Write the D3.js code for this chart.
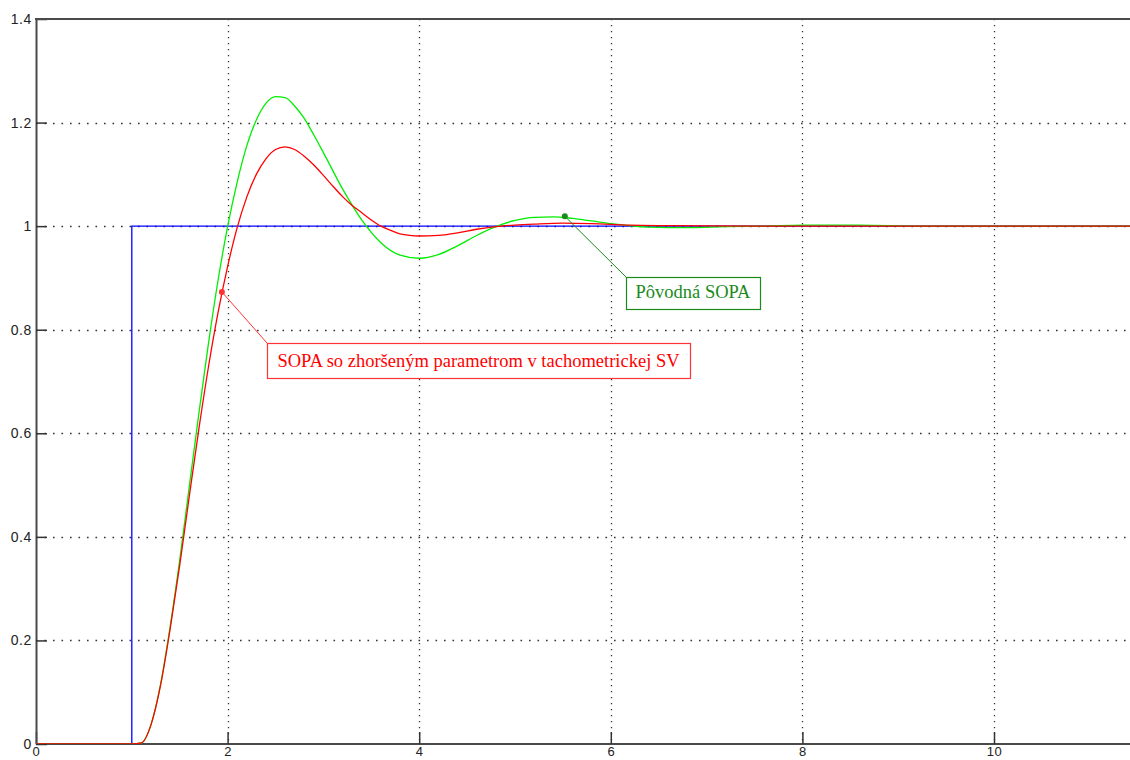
<!DOCTYPE html>
<html>
<head>
<meta charset="utf-8">
<script src="https://cdn.jsdelivr.net/npm/d3@7"></script>
<style>
  html, body { margin: 0; padding: 0; background: #ffffff; }
  svg { display: block; }
</style>
</head>
<body>
<svg id="chart" width="1130" height="760"></svg>
<script>
// Reference step input (unit step applied at t = 1 s)
const stepT = [0, 1, 1, 12];
const stepY = [0, 0, 1, 1];

// Original closed loop ("Pôvodná SOPA")
const origT = [0, 1.0, 1.1, 1.2, 1.3, 1.4, 1.5, 1.6, 1.7, 1.8, 1.9, 2.0, 2.1, 2.2, 2.3, 2.4, 2.5, 2.6, 2.7, 2.8, 2.9,
  3.0, 3.2, 3.4, 3.6, 3.8, 4.0, 4.2, 4.4, 4.6, 4.8, 5.0, 5.2, 5.4, 5.6, 5.8, 6.0, 6.2, 6.4, 6.8, 7.2, 7.6, 8.0, 8.6, 9.2, 12];
const origY = [0, 0, 0.002, 0.037, 0.115, 0.226, 0.355, 0.497, 0.638, 0.773, 0.895, 0.999, 1.085, 1.155, 1.205, 1.237, 1.250, 1.248, 1.232, 1.208, 1.176,
  1.142, 1.072, 1.012, 0.968, 0.944, 0.938, 0.945, 0.962, 0.982, 0.999, 1.011, 1.017, 1.018, 1.015, 1.010, 1.005, 1.001, 0.998, 0.997, 0.999, 1.0, 1.002, 1.002, 1.0, 1.0];

// Loop with the degraded tachometric feedback parameter
const degrT = [0, 1.0, 1.1, 1.2, 1.3, 1.4, 1.5, 1.6, 1.7, 1.8, 1.9, 2.0, 2.1, 2.2, 2.3, 2.4, 2.5, 2.6, 2.7, 2.8, 2.9,
  3.0, 3.1, 3.2, 3.3, 3.4, 3.5, 3.6, 3.7, 3.8, 3.9, 4.0, 4.2, 4.4, 4.6, 4.8, 5.0, 5.2, 5.5, 5.8, 6.2, 6.6, 7.5, 12];
const degrY = [0, 0, 0.002, 0.037, 0.113, 0.222, 0.345, 0.478, 0.608, 0.728, 0.833, 0.922, 0.997, 1.056, 1.100, 1.130, 1.148, 1.153, 1.148, 1.135, 1.118,
  1.098, 1.077, 1.057, 1.040, 1.026, 1.012, 1.000, 0.992, 0.985, 0.982, 0.981, 0.982, 0.987, 0.994, 0.999, 1.002, 1.004, 1.006, 1.005, 1.002, 1.001, 1.0, 1.0];

// Axis ticks
const xTicks = [0, 2, 4, 6, 8, 10];
const yTicks = [0, 0.2, 0.4, 0.6, 0.8, 1.0, 1.2, 1.4];

// Annotation anchors on the curves
const annOrig = { t: 5.52, y: 1.019, text: "Pôvodná SOPA" };
const annDegr = { t: 1.94, y: 0.873, text: "SOPA so zhoršeným parametrom v tachometrickej SV" };

const svg = d3.select("#chart");
const W = 1130, H = 760;
const plotLeft = 36, plotTop = 19, plotBottom = 744;

const x = d3.scaleLinear().domain([0, 12]).range([plotLeft, plotLeft + 12 * 95.8]);
const y = d3.scaleLinear().domain([0, 1.4]).range([plotBottom, plotTop]);

svg.append("rect").attr("width", W).attr("height", H).attr("fill", "#ffffff");

svg.append("defs").append("clipPath").attr("id", "plotclip")
  .append("rect").attr("x", plotLeft).attr("y", plotTop).attr("width", W - plotLeft).attr("height", plotBottom - plotTop);

// Dotted grid
const grid = svg.append("g");
grid.selectAll("line.hg").data(yTicks.filter(v => v > 0 && v < 1.4)).join("line")
  .attr("class", "hg")
  .attr("x1", plotLeft).attr("x2", W)
  .attr("y1", d => Math.round(y(d)) + 0.5).attr("y2", d => Math.round(y(d)) + 0.5)
  .attr("stroke", "#333").attr("stroke-width", 1.3)
  .attr("stroke-dasharray", "1.6,6.9");
grid.selectAll("line.vg").data(xTicks.filter(v => v > 0)).join("line")
  .attr("class", "vg")
  .attr("y1", plotTop).attr("y2", plotBottom)
  .attr("x1", d => Math.round(x(d)) + 0.5).attr("x2", d => Math.round(x(d)) + 0.5)
  .attr("stroke", "#333").attr("stroke-width", 1.3)
  .attr("stroke-dasharray", "1.3,4.7");

// Axes with inward ticks
const xAxis = d3.axisBottom(x).tickValues(xTicks).tickSizeInner(-12).tickSizeOuter(0).tickPadding(16).tickFormat(d3.format("d"));
const yAxis = d3.axisLeft(y).tickValues(yTicks).tickSizeInner(-11).tickSizeOuter(0).tickPadding(16).tickFormat(d => d === 0 ? "0" : d3.format(".1f")(d).replace(/\.0$/, ""));

const gx = svg.append("g").attr("transform", `translate(0,${plotBottom})`).call(xAxis);
const gy = svg.append("g").attr("transform", `translate(${plotLeft},0)`).call(yAxis);
[gx, gy].forEach(g => {
  g.select(".domain").attr("stroke", "#4a4a4a").attr("stroke-width", 2);
  g.selectAll(".tick line").attr("stroke", "#333").attr("stroke-width", 1.5);
  g.selectAll(".tick text").attr("fill", "#222")
    .attr("font-family", "'Liberation Sans', Arial, sans-serif")
    .attr("font-size", 14).attr("letter-spacing", 0.6);
});
gy.selectAll(".tick text").attr("x", -4);
// bottom labels sit just under the axis, kept inside the frame
gx.selectAll(".tick text").attr("y", 3).attr("font-size", 13).attr("dy", "0.7em");
gx.select(".domain").attr("d", `M${plotLeft},0H${W}`);

// Top frame line
svg.append("line").attr("x1", plotLeft - 1).attr("x2", W).attr("y1", plotTop).attr("y2", plotTop)
  .attr("stroke", "#4a4a4a").attr("stroke-width", 2);

// Curves
const plot = svg.append("g").attr("clip-path", "url(#plotclip)");
const lineLin = d3.line().x(d => x(d[0])).y(d => y(d[1]));
const lineSmooth = d3.line().x(d => x(d[0])).y(d => y(d[1])).curve(d3.curveMonotoneX);

plot.append("path").datum(d3.zip(stepT, stepY)).attr("d", lineLin)
  .attr("fill", "none").attr("stroke", "#0000ff").attr("stroke-width", 1.3);
plot.append("path").datum(d3.zip(origT, origY)).attr("d", lineSmooth)
  .attr("fill", "none").attr("stroke", "#00ee00").attr("stroke-width", 1.3);
plot.append("path").datum(d3.zip(degrT, degrY)).attr("d", lineSmooth)
  .attr("fill", "none").attr("stroke", "#ff0000").attr("stroke-width", 1.3);

// Annotations
function annotate(a, box, color, textColor) {
  const g = svg.append("g");
  g.append("line")
    .attr("x1", x(a.t)).attr("y1", y(a.y))
    .attr("x2", box.x).attr("y2", box.y)
    .attr("stroke", color).attr("stroke-width", 1);
  g.append("circle").attr("cx", x(a.t)).attr("cy", y(a.y)).attr("r", 3).attr("fill", color);
  g.append("rect")
    .attr("x", box.x + 0.5).attr("y", box.y + 0.5)
    .attr("width", box.w).attr("height", box.h)
    .attr("fill", "#ffffff").attr("stroke", color).attr("stroke-width", 1.2);
  g.append("text")
    .attr("x", box.x + box.w / 2).attr("y", box.y + box.h - 11)
    .attr("text-anchor", "middle")
    .attr("font-family", "'Liberation Serif', 'Times New Roman', serif")
    .attr("font-size", 18.5)
    .attr("fill", textColor)
    .text(a.text);
}
annotate(annDegr, { x: 267, y: 343, w: 423, h: 35 }, "#ff3333", "#ff0000");
annotate(annOrig, { x: 626, y: 277, w: 134, h: 32 }, "#1a8a1a", "#1a8a1a");
</script>
</body>
</html>
